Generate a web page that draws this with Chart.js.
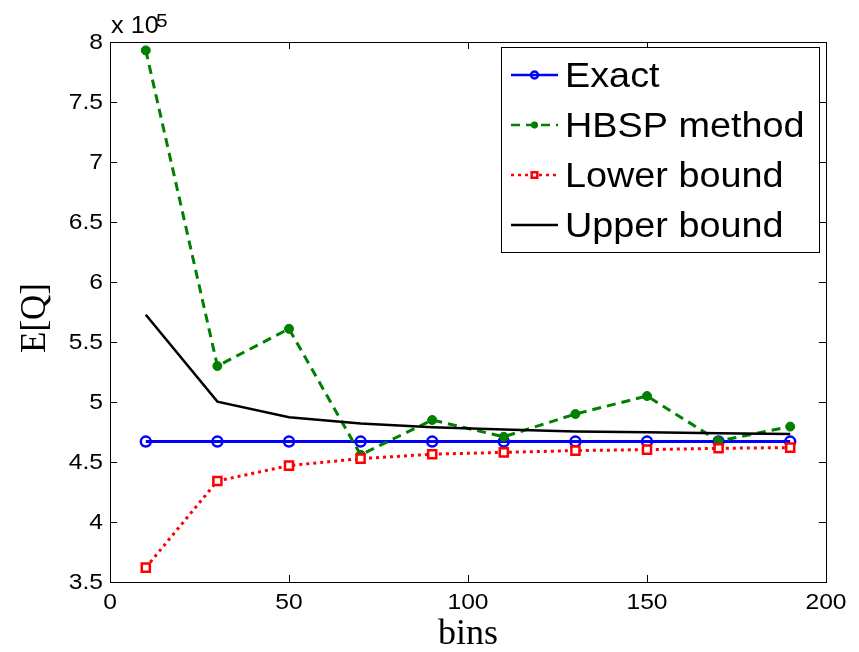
<!DOCTYPE html>
<html lang="en">
<head>
<meta charset="UTF-8">
<title>E[Q] vs bins</title>
<script src="https://cdn.jsdelivr.net/npm/chart.js"></script>
<style>
  html, body { margin: 0; padding: 0; background: #fff; }
  #eqChart { display: block; }
</style>
</head>
<body>
<canvas id="eqChart" width="859" height="652"></canvas>
<script>
    // number of bins on the x axis
    const bins = [10, 30, 50, 70, 90, 110, 130, 150, 170, 190];
    // E[Q] values, in units of 1e5
    const exact = [4.67, 4.67, 4.67, 4.67, 4.67, 4.67, 4.67, 4.67, 4.67, 4.67];
    const hbsp  = [7.93, 5.30, 5.61, 4.56, 4.85, 4.71, 4.90, 5.05, 4.675, 4.795];
    const lower = [3.62, 4.342, 4.47, 4.528, 4.565, 4.58, 4.595, 4.603, 4.614, 4.62];
    const upper = [5.727, 5.003, 4.873, 4.82, 4.79, 4.77, 4.755, 4.747, 4.74, 4.733];

    const xTicks = [0, 50, 100, 150, 200];
    const xTickLabels = ['0', '50', '100', '150', '200'];
    const yTicks = [3.5, 4, 4.5, 5, 5.5, 6, 6.5, 7, 7.5, 8];
    const yTickLabels = ['3.5', '4', '4.5', '5', '5.5', '6', '6.5', '7', '7.5', '8'];

    const sans = '"Liberation Sans", Arial, sans-serif';
    const serif = '"Liberation Serif", "Times New Roman", serif';

    const pts = vals => bins.map((b, i) => ({ x: b, y: vals[i] }));

    // text drawn a little wider than the font's natural width
    function wideText(ctx, text, x, y, sx, align, baseline) {
        ctx.save();
        ctx.translate(x, y);
        ctx.scale(sx, 1);
        ctx.textAlign = align;
        ctx.textBaseline = baseline;
        ctx.fillText(text, 0, 0);
        ctx.restore();
    }

    // small marker painter for the legend samples
    function drawMarker(ctx, ds, cx, cy, scale) {
        if (!ds.pointRadius) return;
        const r = ds.pointRadius * scale;
        ctx.save();
        ctx.setLineDash([]);
        ctx.lineWidth = ds.pointBorderWidth;
        ctx.strokeStyle = ds.pointBorderColor;
        ctx.fillStyle = ds.pointBackgroundColor;
        ctx.beginPath();
        if (ds.pointStyle === 'rect') {
            const s = Math.SQRT1_2 * r;
            ctx.rect(cx - s, cy - s, 2 * s, 2 * s);
        } else {
            ctx.arc(cx, cy, r, 0, Math.PI * 2);
        }
        ctx.fill();
        ctx.stroke();
        ctx.restore();
    }

    const matlabFrame = {
        id: 'matlabFrame',
        beforeDraw(chart) {
            const ctx = chart.ctx;
            ctx.save();
            ctx.fillStyle = '#fff';
            ctx.fillRect(0, 0, chart.width, chart.height);
            ctx.restore();
        },
        afterDraw(chart) {
            const { ctx, chartArea: a, scales: { x, y } } = chart;
            ctx.save();
            ctx.strokeStyle = '#000';
            ctx.lineWidth = 1;
            ctx.setLineDash([]);
            ctx.strokeRect(a.left + 0.5, a.top + 0.5, a.right - a.left, a.bottom - a.top);

            // inward ticks on all four sides
            const tl = 7;
            ctx.beginPath();
            xTicks.forEach(v => {
                const px = Math.round(x.getPixelForValue(v)) + 0.5;
                ctx.moveTo(px, a.bottom); ctx.lineTo(px, a.bottom - tl);
                ctx.moveTo(px, a.top); ctx.lineTo(px, a.top + tl);
            });
            yTicks.forEach(v => {
                const py = Math.round(y.getPixelForValue(v)) + 0.5;
                ctx.moveTo(a.left, py); ctx.lineTo(a.left + tl, py);
                ctx.moveTo(a.right, py); ctx.lineTo(a.right - tl, py);
            });
            ctx.stroke();

            // tick labels
            ctx.fillStyle = '#000';
            ctx.font = '22px ' + sans;
            xTicks.forEach((v, i) =>
                wideText(ctx, xTickLabels[i], x.getPixelForValue(v), a.bottom + 27, 1.12, 'center', 'alphabetic'));
            yTicks.forEach((v, i) =>
                wideText(ctx, yTickLabels[i], a.left - 7, y.getPixelForValue(v) + 1, 1.12, 'right', 'middle'));

            // exponent
            ctx.font = '23px ' + sans;
            wideText(ctx, 'x 10', a.left + 1, 33, 1.1, 'left', 'alphabetic');
            ctx.font = '19px ' + sans;
            wideText(ctx, '5', a.left + 46, 27, 1.1, 'left', 'alphabetic');

            // axis titles
            ctx.font = '36px ' + serif;
            ctx.textAlign = 'center';
            ctx.textBaseline = 'alphabetic';
            ctx.fillText('bins', (a.left + a.right) / 2, 644);
            ctx.save();
            ctx.translate(45, (a.top + a.bottom) / 2 + 6);
            ctx.rotate(-Math.PI / 2);
            ctx.font = '35px ' + serif;
            ctx.fillText('E[Q]', 0, 0);
            ctx.restore();

            // legend box
            const lx = 501, ly = 47, lw = 318, lh = 205;
            ctx.fillStyle = '#fff';
            ctx.fillRect(lx, ly, lw, lh);
            ctx.strokeStyle = '#000';
            ctx.lineWidth = 1;
            ctx.strokeRect(lx + 0.5, ly + 0.5, lw, lh);
            chart.data.datasets.forEach((ds, i) => {
                const cy = 75 + i * 50;
                ctx.save();
                ctx.strokeStyle = ds.borderColor;
                ctx.lineWidth = Math.min(ds.borderWidth, 2.5);
                ctx.setLineDash(ds.borderDash || []);
                ctx.beginPath();
                ctx.moveTo(511, cy);
                ctx.lineTo(558, cy);
                ctx.stroke();
                ctx.restore();
                drawMarker(ctx, ds, 534.5, cy, 0.7);
                ctx.fillStyle = '#000';
                ctx.font = '35px ' + sans;
                wideText(ctx, ds.label, 565, cy + 12, 1.08, 'left', 'alphabetic');
            });
            ctx.restore();
        }
    };

    new Chart(document.getElementById('eqChart'), {
        type: 'line',
        data: {
            datasets: [
                {
                    label: 'Exact', data: pts(exact), order: 4,
                    borderColor: '#0000ff', borderWidth: 3,
                    pointStyle: 'circle', pointRadius: 5, pointBorderWidth: 2.5,
                    pointBorderColor: '#0000ff', pointBackgroundColor: 'rgba(255,255,255,0)'
                },
                {
                    label: 'HBSP method', data: pts(hbsp), order: 3,
                    borderColor: '#008000', borderWidth: 3, borderDash: [9, 6],
                    pointStyle: 'circle', pointRadius: 4.5, pointBorderWidth: 1,
                    pointBorderColor: '#008000', pointBackgroundColor: '#008000'
                },
                {
                    label: 'Lower bound', data: pts(lower), order: 2,
                    borderColor: '#ff0000', borderWidth: 3, borderDash: [3, 4],
                    pointStyle: 'rect', pointRadius: 5.7, pointBorderWidth: 2.5,
                    pointBorderColor: '#ff0000', pointBackgroundColor: '#ffffff'
                },
                {
                    label: 'Upper bound', data: pts(upper), order: 1,
                    borderColor: '#000000', borderWidth: 2.5,
                    pointRadius: 0
                }
            ]
        },
        options: {
            responsive: false,
            animation: false,
            layout: { padding: { left: 110, top: 42, right: 33, bottom: 70 } },
            elements: { line: { tension: 0, fill: false } },
            scales: {
                x: { type: 'linear', min: 0, max: 200, display: false },
                y: { type: 'linear', min: 3.5, max: 8, display: false }
            },
            plugins: {
                legend: { display: false },
                tooltip: { enabled: false }
            },
            events: []
        },
        plugins: [matlabFrame]
    });
</script>
</body>
</html>
